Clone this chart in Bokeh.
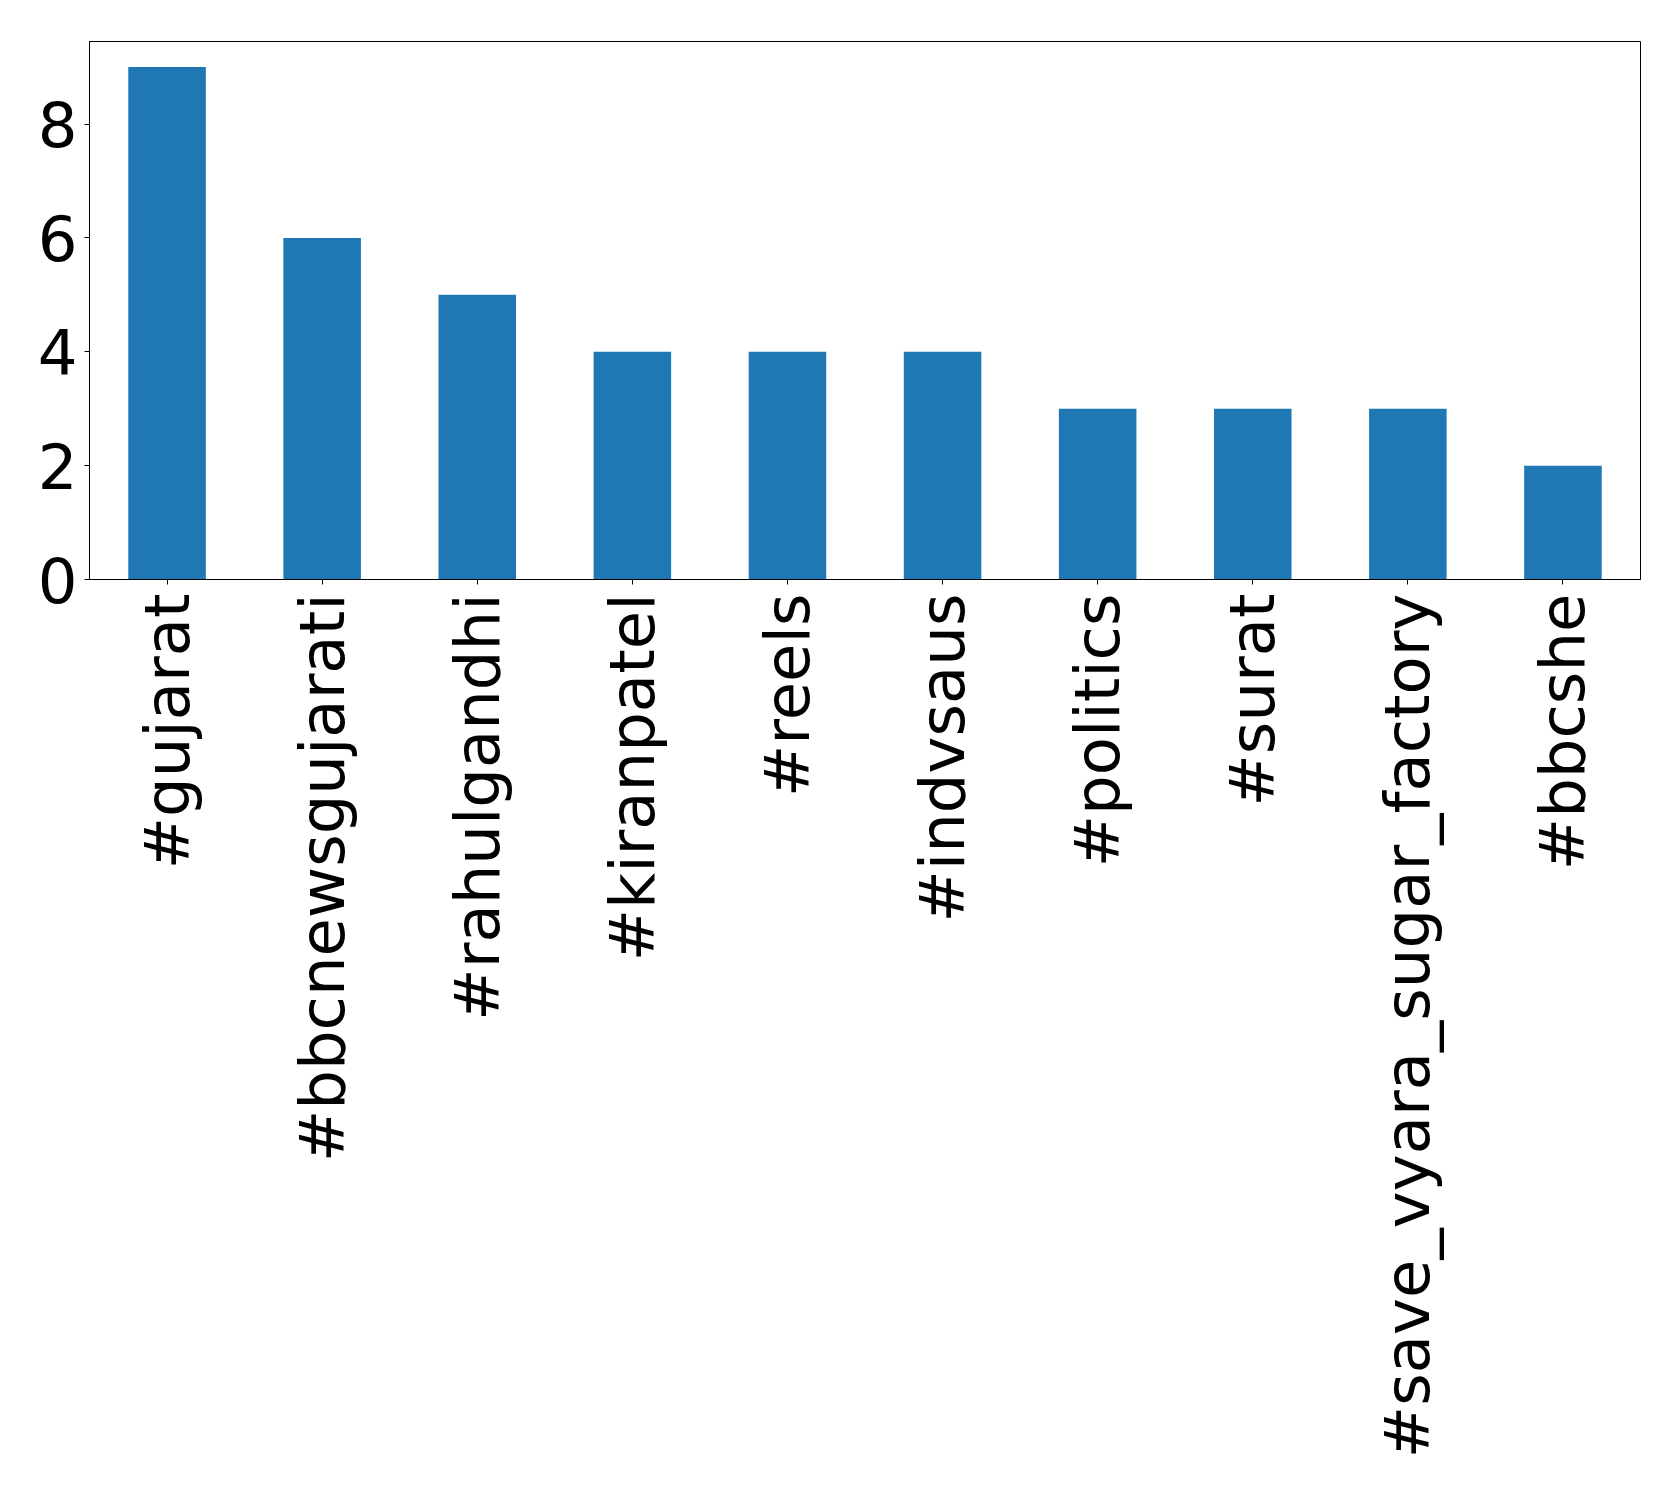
import math
from bokeh.plotting import figure
from bokeh.models import FactorRange, Range1d, FixedTicker, ColumnDataSource
from bokeh.embed import file_html
from bokeh.resources import INLINE

hashtags = ["#gujarat", "#bbcnewsgujarati", "#rahulgandhi", "#kiranpatel", "#reels",
            "#indvsaus", "#politics", "#surat", "#save_vyara_sugar_factory", "#bbcshe"]
counts = [9, 6, 5, 4, 4, 4, 3, 3, 3, 2]
y_ticks = [0, 2, 4, 6, 8]

src = ColumnDataSource(data=dict(tag=hashtags, count=counts))

p = figure(width=1663, height=1477, output_backend="svg", toolbar_location=None,
           x_range=FactorRange(factors=hashtags, range_padding=0),
           y_range=Range1d(0, max(counts) * 1.05),
           min_border_left=89, min_border_right=23, min_border_top=41, min_border_bottom=898)

p.vbar(x="tag", top="count", width=0.5, source=src, color="#1f77b4", line_color=None)

p.xgrid.grid_line_color = None
p.ygrid.grid_line_color = None
p.outline_line_color = "black"
p.outline_line_width = 1
p.outline_line_alpha = 1

for ax in (p.xaxis[0], p.yaxis[0]):
    ax.major_label_text_font = "DejaVu Sans"
    ax.major_label_text_font_size = "62.5px"
    ax.major_label_text_color = "black"
    ax.axis_line_color = "black"
    ax.axis_line_width = 1
    ax.major_tick_line_color = "black"
    ax.major_tick_line_width = 1
    ax.major_tick_out = 5
    ax.major_tick_in = 0
    ax.minor_tick_line_color = None

p.yaxis.ticker = FixedTicker(ticks=y_ticks)
p.yaxis.major_label_standoff = 7
p.xaxis.major_label_orientation = math.pi / 2
p.xaxis.major_label_standoff = 9

open("out.html", "w").write(file_html(p, INLINE))
